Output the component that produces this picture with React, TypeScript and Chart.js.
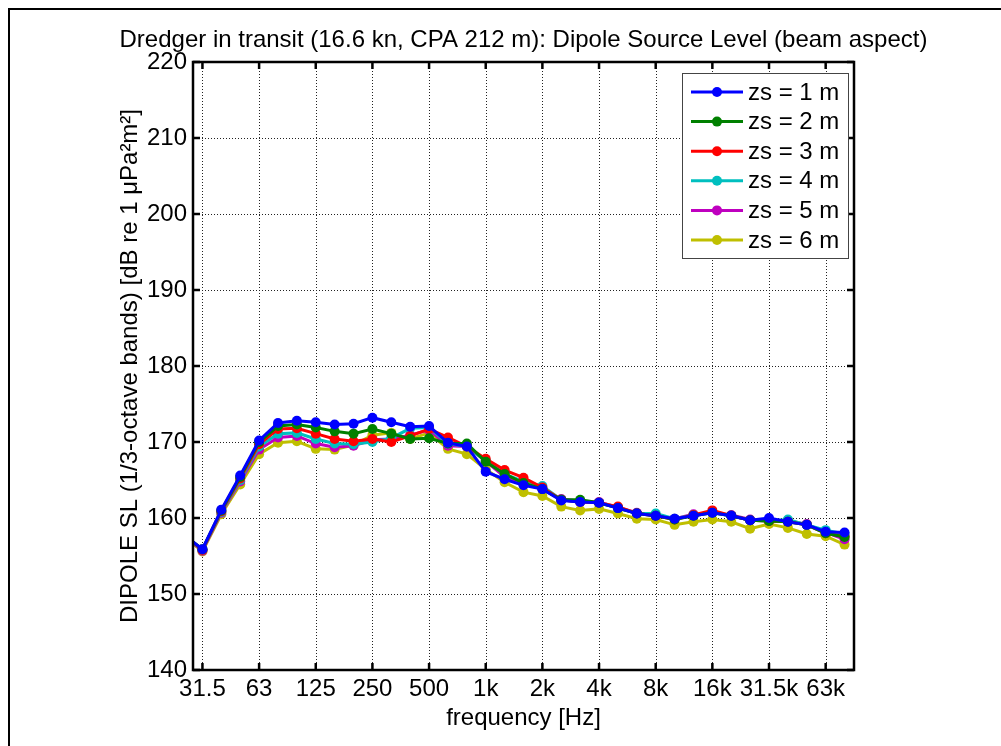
import React, { useEffect, useRef } from 'react';
import { Chart, registerables } from 'chart.js';

Chart.register(...registerables);

// 1/3-octave band centre frequencies (index = x position)
const bandLabels = ['25', '31.5', '40', '50', '63', '80', '100', '125', '160', '200', '250', '315', '400', '500', '630', '800', '1k', '1.25k', '1.6k', '2k', '2.5k', '3.15k', '4k', '5k', '6.3k', '8k', '10k', '12.5k', '16k', '20k', '25k', '31.5k', '40k', '50k', '63k', '80k'];
const tickIndices = [1, 4, 7, 10, 13, 16, 19, 22, 25, 28, 31, 34];
const tickLabels = ['31.5', '63', '125', '250', '500', '1k', '2k', '4k', '8k', '16k', '31.5k', '63k'];
const yTicks = [140, 150, 160, 170, 180, 190, 200, 210, 220];

const zs1 = [157.8, 155.9, 161.1, 165.6, 170.2, 172.5, 172.8, 172.6, 172.3, 172.4, 173.2, 172.6, 172.0, 172.1, 169.9, 169.4, 166.1, 165.1, 164.3, 163.8, 162.3, 162.1, 162.0, 161.3, 160.6, 160.3, 159.9, 160.3, 160.7, 160.3, 159.7, 160.0, 159.5, 159.1, 158.2, 158.1];
const zs2 = [157.8, 155.9, 161.0, 165.4, 170.0, 172.1, 172.3, 171.9, 171.4, 171.1, 171.7, 171.1, 170.4, 170.5, 169.8, 169.8, 167.4, 165.8, 164.6, 163.8, 162.4, 162.4, 162.0, 161.3, 160.6, 160.3, 159.8, 160.3, 160.7, 160.3, 159.7, 159.6, 159.5, 159.1, 158.0, 157.5];
const zs3 = [157.8, 155.8, 160.9, 165.2, 169.7, 171.7, 171.8, 171.1, 170.4, 170.1, 170.4, 170.0, 170.8, 171.7, 170.6, 169.4, 167.8, 166.3, 165.3, 164.0, 162.4, 162.1, 162.0, 161.5, 160.6, 160.3, 159.8, 160.4, 161.0, 160.3, 159.7, 159.6, 159.5, 159.1, 158.0, 157.6];
const zs4 = [157.7, 155.8, 160.8, 165.0, 169.4, 171.1, 171.2, 170.4, 169.8, 169.7, 170.0, 170.5, 171.8, 171.9, 169.8, 169.4, 167.5, 165.8, 164.8, 164.2, 162.4, 162.1, 162.0, 161.3, 160.6, 160.6, 159.9, 160.4, 160.7, 160.3, 159.7, 159.6, 159.8, 159.1, 158.4, 157.9];
const zs5 = [157.7, 155.7, 160.7, 164.8, 169.0, 170.6, 170.8, 169.8, 169.3, 169.5, 170.3, 170.4, 170.9, 171.6, 169.5, 169.4, 167.5, 165.4, 164.5, 163.8, 162.5, 162.2, 162.1, 161.4, 160.7, 160.3, 159.9, 160.5, 160.7, 160.4, 159.8, 159.6, 159.6, 159.2, 158.1, 157.2];
const zs6 = [157.6, 155.6, 160.5, 164.4, 168.4, 169.9, 170.1, 169.1, 169.0, 169.6, 170.9, 171.2, 170.4, 171.2, 169.1, 168.4, 166.4, 164.7, 163.4, 162.9, 161.5, 161.0, 161.2, 160.6, 159.9, 159.8, 159.1, 159.5, 159.8, 159.5, 158.6, 159.2, 158.7, 157.9, 157.6, 156.5];

const seriesValues = [zs1, zs2, zs3, zs4, zs5, zs6];
const seriesNames = ['zs = 1 m', 'zs = 2 m', 'zs = 3 m', 'zs = 4 m', 'zs = 5 m', 'zs = 6 m'];
const seriesColors = ['#0000ff', '#008000', '#ff0000', '#00bfbf', '#bf00bf', '#bfbf00'];

const titleText = 'Dredger in transit (16.6 kn, CPA 212 m): Dipole Source Level (beam aspect)';
const xTitle = 'frequency [Hz]';
const yTitle = 'DIPOLE SL (1/3-octave bands) [dB re 1 \u03bcPa\u00b2m\u00b2]';

const FONT = '"Liberation Sans", Arial, Helvetica, sans-serif';
const FS = 24;

const framePlugin = {
  id: 'matlabFrame',
  beforeDatasetsDraw(chart: any) {
    const { ctx, chartArea: a, scales } = chart;
    ctx.save();
    ctx.strokeStyle = '#222';
    ctx.lineWidth = 1;
    ctx.setLineDash([1, 2]);
    for (const v of tickIndices) {
      const x = Math.round(scales.x.getPixelForValue(v)) + 0.5;
      ctx.beginPath();
      ctx.moveTo(x, a.top);
      ctx.lineTo(x, a.bottom);
      ctx.stroke();
    }
    for (const v of yTicks) {
      const y = Math.round(scales.y.getPixelForValue(v)) + 0.5;
      ctx.beginPath();
      ctx.moveTo(a.left, y);
      ctx.lineTo(a.right, y);
      ctx.stroke();
    }
    ctx.restore();
  },
  afterDatasetsDraw(chart: any) {
    const { ctx, chartArea: a, scales } = chart;
    ctx.save();
    ctx.setLineDash([]);
    ctx.strokeStyle = '#000';
    ctx.lineWidth = 2.5;
    const tl = 7;
    for (const v of tickIndices) {
      const x = scales.x.getPixelForValue(v);
      ctx.beginPath();
      ctx.moveTo(x, a.bottom);
      ctx.lineTo(x, a.bottom - tl);
      ctx.moveTo(x, a.top);
      ctx.lineTo(x, a.top + tl);
      ctx.stroke();
    }
    for (const v of yTicks) {
      const y = scales.y.getPixelForValue(v);
      ctx.beginPath();
      ctx.moveTo(a.left, y);
      ctx.lineTo(a.left + tl, y);
      ctx.moveTo(a.right, y);
      ctx.lineTo(a.right - tl, y);
      ctx.stroke();
    }
    ctx.lineWidth = 2.5;
    ctx.strokeRect(a.left, a.top, a.right - a.left, a.bottom - a.top);

    // title, centred over the plot box
    ctx.fillStyle = '#000';
    ctx.font = FS + 'px ' + FONT;
    ctx.textAlign = 'center';
    ctx.textBaseline = 'middle';
    ctx.fillText(titleText, (a.left + a.right) / 2, 40);

    // legend
    const lx = a.right - 172;
    const ly = a.top + 11;
    const lw = 166;
    const lh = 185;
    ctx.fillStyle = '#fff';
    ctx.fillRect(lx, ly, lw, lh);
    ctx.lineWidth = 1;
    ctx.strokeStyle = '#444';
    ctx.strokeRect(lx + 0.5, ly + 0.5, lw, lh);
    ctx.textBaseline = 'middle';
    ctx.textAlign = 'left';
    chart.data.datasets.forEach((ds: any, i: number) => {
      const y = ly + 19 + i * 29.6;
      ctx.strokeStyle = ds.borderColor;
      ctx.lineWidth = 3;
      ctx.beginPath();
      ctx.moveTo(lx + 9, y);
      ctx.lineTo(lx + 61, y);
      ctx.stroke();
      ctx.fillStyle = ds.backgroundColor;
      ctx.beginPath();
      ctx.arc(lx + 35, y, 5, 0, Math.PI * 2);
      ctx.fill();
      ctx.fillStyle = '#000';
      ctx.fillText(ds.label, lx + 66, y + 1);
    });
    ctx.restore();
  },
};

export default function App() {
  const canvasRef = useRef<HTMLCanvasElement | null>(null);

  useEffect(() => {
    const canvas = canvasRef.current;
    if (!canvas) return;
    const datasets = seriesValues.map((vals, s) => ({
      label: seriesNames[s],
      data: vals.map((v, i) => ({ x: i, y: v })),
      borderColor: seriesColors[s],
      backgroundColor: seriesColors[s],
      pointBackgroundColor: seriesColors[s],
      pointBorderColor: seriesColors[s],
      borderWidth: 3,
      pointRadius: 5,
      pointBorderWidth: 0,
      tension: 0,
      clip: 0,
    }));
    const chart = new Chart(canvas, {
      type: 'line',
      data: { datasets },
      options: {
        responsive: false,
        animation: false,
        events: [],
        layout: { padding: { top: 62, left: 0, right: 147, bottom: 0 } },
        plugins: {
          legend: { display: false },
          tooltip: { enabled: false },
          title: { display: false },
        },
        scales: {
          x: {
            type: 'linear',
            min: 0.5,
            max: 35.5,
            grid: { display: false, drawTicks: false },
            border: { display: false },
            afterFit: (scale: any) => { scale.height = 76; },
            afterBuildTicks: (scale: any) => {
              scale.ticks = tickIndices.map((v) => ({ value: v }));
            },
            ticks: {
              autoSkip: false,
              maxRotation: 0,
              padding: 5,
              color: '#000',
              font: { family: FONT, size: FS },
              callback: (value: any) => {
                const k = tickIndices.indexOf(Number(value));
                return k >= 0 ? tickLabels[k] : '';
              },
            },
            title: {
              display: true,
              text: xTitle,
              color: '#000',
              font: { family: FONT, size: FS },
              padding: { top: 0, bottom: 13 },
            },
          },
          y: {
            type: 'linear',
            min: 140,
            max: 220,
            grid: { display: false, drawTicks: false },
            border: { display: false },
            afterFit: (scale: any) => { scale.width = 193; },
            afterBuildTicks: (scale: any) => {
              scale.ticks = yTicks.map((v) => ({ value: v }));
            },
            ticks: {
              padding: 6,
              color: '#000',
              font: { family: FONT, size: FS },
            },
            title: {
              display: true,
              text: yTitle,
              color: '#000',
              font: { family: FONT, size: FS },
              padding: { top: 116, bottom: 0 },
            },
          },
        },
      },
      plugins: [framePlugin],
    } as any);
    return () => chart.destroy();
  }, []);

  return (
    <div style={{ position: 'fixed', left: 0, top: 0, width: 1001, height: 746, background: '#fff', overflow: 'hidden' }}>
      <div style={{ position: 'absolute', left: 8, top: 8, width: 1100, height: 900, borderLeft: '2px solid #000', borderTop: '2px solid #000' }} />
      <canvas ref={canvasRef} width={1001} height={746} style={{ position: 'absolute', left: 0, top: 0 }} />
    </div>
  );
}
